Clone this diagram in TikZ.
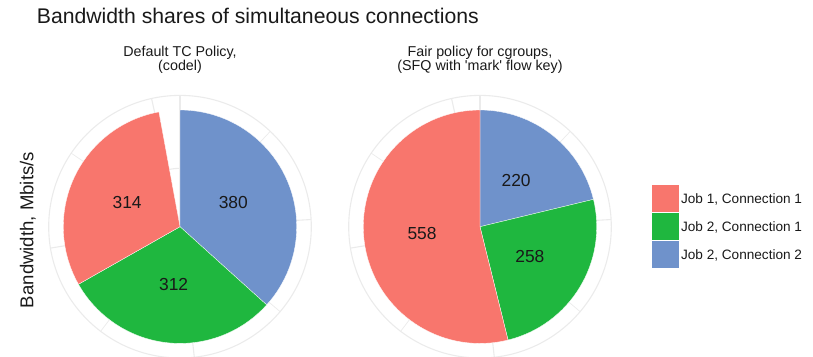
\documentclass[tikz,border=0pt]{standalone}
\usepackage{fontspec}
\setmainfont{Liberation Sans}
\usetikzlibrary{positioning}
\definecolor{jobonered}{HTML}{F8766D}
\definecolor{jobtwogreen}{HTML}{1FB73F}
\definecolor{jobtwoblue}{HTML}{6F92CB}
\definecolor{gridgray}{HTML}{EBEBEB}
\newcommand{\radiuspie}{116.7pt}
\newcommand{\radiusgrid}{131.3pt}
\newcommand{\radiuscount}{58.35pt}
\newcommand{\unitangle}{0.34749}
\tikzset{
    gridline/.style={draw=gridgray, line width=1.1pt},
    minorline/.style={gridline, line width=0.7pt},
    slice/.style={draw=white, line width=0.3pt},
    count/.style={font=\fontsize{17.4}{20}\selectfont, text=black!90},
    facet/.style={font=\fontsize{14.3}{13.5}\selectfont, align=center, anchor=north, inner sep=0pt, text=black!90},
    key/.style={rectangle, draw=white, line width=0.8pt, minimum size=27.8pt, inner sep=0pt, outer sep=0pt},
    legendtext/.style={font=\fontsize{13.6}{16}\selectfont, text height=9.7pt, text depth=0pt, inner sep=0pt, text=black!90}
}

\begin{document}
\begin{tikzpicture}[x=1pt, y=1pt]
    \useasboundingbox (0,0) rectangle (813,-356);

    \node[anchor=base west, inner sep=0pt, font=\fontsize{21.2}{25}\selectfont, text=black!90] (title) at (36.7,-23.3) {Bandwidth shares of simultaneous connections};
    \node[anchor=base, rotate=90, inner sep=0pt, font=\fontsize{18.6}{22}\selectfont, text=black!90] (axislabel) at (33.3,-230) {Bandwidth, Mbits/s};

    \coordinate (pa) at (180,-226.7);
    \coordinate (pb) at (480,-226.7);
    \node[facet] (policya) at (180,-46.3) {Default TC Policy,\\(codel)};
    \node[facet] (policyb) at (480,-46.3) {Fair policy for cgroups,\\(SFQ with \textquotesingle mark\textquotesingle{} flow key)};

    % grid under the pies
    \foreach \c in {pa, pb} {
        \draw[gridline] (\c) circle[radius=\radiusgrid];
        \draw[gridline] (\c) circle[radius=\radiuscount];
        \foreach \t in {0,250,500,750,1000}
            \draw[gridline] (\c) -- ++({90-\t*\unitangle}:\radiusgrid);
        \foreach \t in {125,375,625,875}
            \draw[minorline] (\c) -- ++({90-\t*\unitangle}:\radiusgrid);
    }

    % slices, stacked clockwise from the top
    \foreach \c/\from/\to/\col/\val/\name in {
            pa/0/380/jobtwoblue/380/ca3, pa/380/692/jobtwogreen/312/ca2, pa/692/1006/jobonered/314/ca1,
            pb/0/220/jobtwoblue/220/cb3, pb/220/478/jobtwogreen/258/cb2, pb/478/1036/jobonered/558/cb1} {
        \filldraw[slice, fill=\col] (\c) -- ++({90-\from*\unitangle}:\radiuspie)
            arc[start angle={90-\from*\unitangle}, end angle={90-\to*\unitangle}, radius=\radiuspie] -- cycle;
        \node[count] (\name) at ([shift={({90-(\from+\to)/2*\unitangle}:\radiuscount)}]\c) {\val};
    }

    % legend
    \node[key, fill=jobonered] (key1) at (665.5,-198.6) {};
    \node[key, fill=jobtwogreen, below=0pt of key1] (key2) {};
    \node[key, fill=jobtwoblue, below=0pt of key2] (key3) {};
    \node[legendtext, right=1.5pt of key1] (entry1) {Job 1, Connection 1};
    \node[legendtext, right=1.5pt of key2] (entry2) {Job 2, Connection 1};
    \node[legendtext, right=1.5pt of key3] (entry3) {Job 2, Connection 2};
\end{tikzpicture}
\end{document}
